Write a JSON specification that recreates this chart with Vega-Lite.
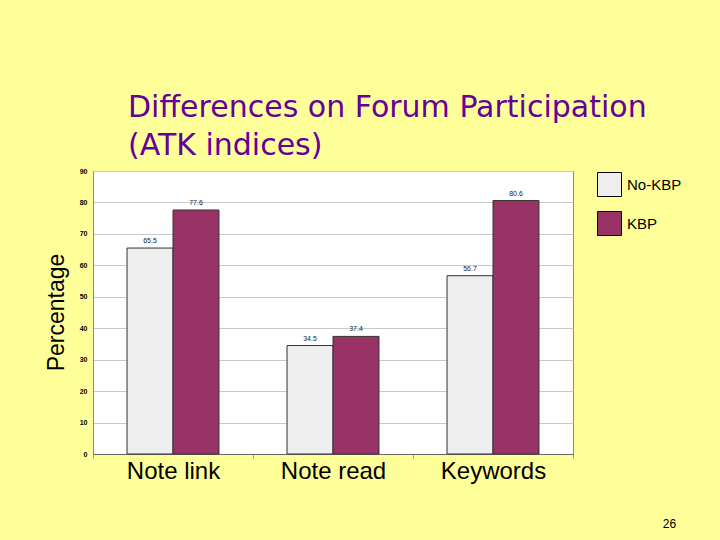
{
  "$schema": "https://vega.github.io/schema/vega-lite/v6.json",
  "autosize": "none",
  "width": 480,
  "height": 283,
  "padding": {"left": 93, "top": 171, "right": 147, "bottom": 86},
  "background": "#FFFF99",
  "title": {
    "text": ["Differences on Forum Participation", "(ATK indices)"],
    "anchor": "start",
    "frame": "group",
    "dx": 35,
    "offset": 6,
    "font": "DejaVu Sans",
    "fontSize": 30,
    "fontWeight": "normal",
    "color": "#660099",
    "lineHeight": 38
  },
  "data": {
    "values": [
      {"category": "Note link", "group": "No-KBP", "value": 65.5},
      {"category": "Note link", "group": "KBP", "value": 77.6},
      {"category": "Note read", "group": "No-KBP", "value": 34.5},
      {"category": "Note read", "group": "KBP", "value": 37.4},
      {"category": "Keywords", "group": "No-KBP", "value": 56.7},
      {"category": "Keywords", "group": "KBP", "value": 80.6}
    ]
  },
  "encoding": {
    "x": {
      "field": "category",
      "type": "nominal",
      "sort": ["Note link", "Note read", "Keywords"],
      "scale": {"paddingInner": 0, "paddingOuter": 0},
      "axis": {
        "title": "26",
        "titleX": 576,
        "titleY": 69,
        "titleAlign": "center",
        "titleBaseline": "middle",
        "titleFont": "Liberation Sans",
        "titleFontSize": 12,
        "titleFontWeight": "normal",
        "titleColor": "#000000",
        "labelAngle": 0,
        "labelFont": "Liberation Sans",
        "labelFontSize": 24,
        "labelColor": "#000000",
        "labelPadding": 1,
        "tickBand": "extent",
        "tickSize": 4,
        "tickColor": "#999999",
        "domainColor": "#666666",
        "grid": false
      }
    },
    "xOffset": {
      "field": "group",
      "sort": ["No-KBP", "KBP"],
      "scale": {"paddingInner": 0, "paddingOuter": 0.74}
    },
    "y": {
      "field": "value",
      "type": "quantitative",
      "scale": {"domain": [0, 90]},
      "axis": {
        "values": [0, 10, 20, 30, 40, 50, 60, 70, 80, 90],
        "title": "Percentage",
        "titleFont": "Liberation Sans",
        "titleFontSize": 23,
        "titleFontWeight": "normal",
        "titleColor": "#000000",
        "titleX": -25,
        "titleY": 141,
        "titleAngle": -90,
        "titleAlign": "center",
        "titleBaseline": "bottom",
        "labelFont": "Liberation Sans",
        "labelFontSize": 7,
        "labelFontWeight": "bold",
        "labelColor": "#000000",
        "labelPadding": 6,
        "tickSize": 0,
        "domainColor": "#888888",
        "gridColor": "#C8C8C8",
        "gridWidth": 1
      }
    }
  },
  "layer": [
    {
      "mark": {"type": "bar", "stroke": "#333333", "strokeWidth": 1},
      "encoding": {
        "color": {
          "field": "group",
          "type": "nominal",
          "sort": ["No-KBP", "KBP"],
          "scale": {"domain": ["No-KBP", "KBP"], "range": ["#EEEEEE", "#993366"]},
          "legend": {
            "title": null,
            "orient": "none",
            "legendX": 504,
            "legendY": 1,
            "symbolType": "square",
            "symbolSize": 576,
            "symbolStrokeColor": "#000000",
            "symbolStrokeWidth": 1,
            "labelFont": "Liberation Sans",
            "labelFontSize": 15,
            "labelColor": "#000000",
            "labelOffset": 5,
            "rowPadding": 10
          }
        }
      }
    },
    {
      "mark": {"type": "text", "dy": -7, "fontSize": 7, "font": "Liberation Sans", "fill": "#222222"},
      "encoding": {"text": {"field": "value", "type": "quantitative", "format": ".1f"}}
    }
  ],
  "config": {
    "view": {"stroke": "#888888", "strokeWidth": 1, "fill": "#FFFFFF"}
  }
}
